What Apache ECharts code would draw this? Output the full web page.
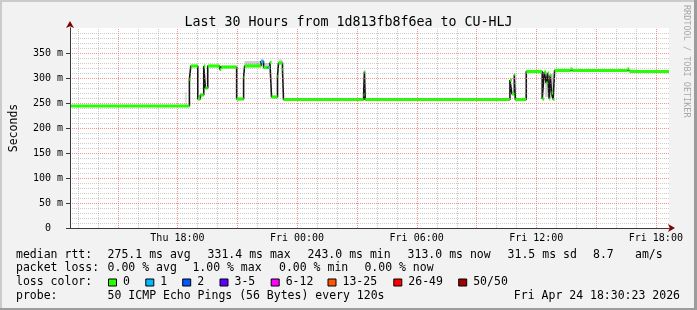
<!DOCTYPE html>
<html><head><meta charset="utf-8">
<script src="https://cdn.jsdelivr.net/npm/echarts@6/dist/echarts.min.js"></script>
<style>html,body{margin:0;padding:0;background:#f2f2f2}#c{width:697px;height:310px}</style>
</head><body><div id="c"></div>
<script>
// ---------------- data ----------------
const titleText = 'Last 30 Hours from 1d813fb8f6ea to CU-HLJ';
const xStart = 12.61, xEnd = 42.66;           // hours since Thu 00:00
const yMin = 0, yMax = 400, yStep = 50;       // ms
const tickHours  = [18, 24, 30, 36, 42];
const tickLabels = ['Thu 18:00', 'Fri 00:00', 'Fri 06:00', 'Fri 12:00', 'Fri 18:00'];

// median rtt (ms), each value holds from its time until the next one
const medianTimes  = [12.61, 18.60, 18.67, 19.02, 19.15, 19.32, 19.40, 19.52, 20.12, 20.20,
                      20.97, 21.32, 21.37, 22.19, 22.32, 22.52, 22.59, 22.64, 22.72, 23.02,
                      23.07, 23.27, 23.32, 27.34, 27.38, 27.42, 34.68, 34.78, 34.90, 34.95,
                      35.50, 36.30, 36.40, 36.50, 36.57, 36.65, 36.70, 36.77, 36.85, 36.92,
                      37.72, 37.82, 40.57, 40.67];
const medianValues = [244, 297, 324, 258, 266, 324, 280, 324, 317, 322,
                      258, 301, 324, 333, 321, 321, 321, 331, 262, 303,
                      330, 317, 257, 266, 313, 257, 296, 268, 307, 257,
                      313, 258, 312, 290, 310, 258, 305, 270, 257, 315,
                      318, 315, 318, 313];
const lossCounts   = [0, 0, 0, 0, 0, 0, 0, 0, 0, 0,
                      0, 0, 0, 1, 0, 1, 0, 0, 0, 0,
                      0, 0, 0, 0, 0, 0, 0, 0, 0, 0,
                      0, 0, 0, 0, 0, 0, 0, 0, 0, 0,
                      0, 0, 0, 0];

// smoke (spread of the pings)
const smokeStart = [18.40, 21.37, 22.19, 22.32, 23.07, 35.45, 36.45, 36.60];
const smokeEnd   = [18.45, 22.19, 22.32, 22.64, 23.27, 35.50, 36.60, 36.85];
const smokeLow   = [246, 324, 326, 318, 328, 258, 262, 260];
const smokeHigh  = [272, 334, 338, 330, 337, 268, 312, 308];

// legend
const legendRtt  = ['275.1 ms avg', '331.4 ms max', '243.0 ms min', '313.0 ms now', '31.5 ms sd', '8.7', 'am/s'];
const legendLoss = ['0.00 % avg', '1.00 % max', '0.00 % min', '0.00 % now'];
const lossLabels = ['0', '1', '2', '3-5', '6-12', '13-25', '26-49', '50/50'];
const probeText  = '50 ICMP Echo Pings (56 Bytes) every 120s';
const stampText  = 'Fri Apr 24 18:30:23 2026';

// ---------------- styles ----------------
const lossColors = ['#26ff00', '#00b8ff', '#0059ff', '#5e00ff', '#ff00ff', '#ff5500', '#ff0000', '#a10000'];
const MONO = 'DejaVu Sans Mono';
const gridGray = 'rgba(140,140,140,0.45)';
const gridRed  = 'rgba(240,110,110,0.75)';
const arrowRed = '#7f0000';
const axisCol  = '#3a3a3a';

const rttX   = [107.6, 207.6, 307.6, 407.6, 507.6, 593, 635];
const lossX  = [107.6, 192.4, 279, 364.4];
const boxX   = [108, 145.3, 182.2, 219.5, 270.7, 327.5, 393.3, 458.2];
const rowY   = [255, 268.5, 282.5, 296];

// ---------------- build ----------------
const segs = medianTimes.map((t, i) => [t, i + 1 < medianTimes.length ? medianTimes[i + 1] : xEnd, medianValues[i], lossCounts[i]]);
const lineData = medianTimes.map((t, i) => [t, medianValues[i]]).concat([[xEnd, medianValues[medianValues.length - 1]]]);
const smokeData = smokeStart.map((t, i) => [t, smokeEnd[i], smokeLow[i], smokeHigh[i]]);
const gridHours = [];
for (let h = Math.ceil(xStart); h <= Math.floor(xEnd); h++) gridHours.push([h, 0]);

const txt = (x, y, s, extra) => Object.assign({type: 'text', x: x, y: y, silent: true,
  style: {text: s, font: '11.5px "' + MONO + '"', fill: '#000', verticalAlign: 'middle', align: 'left'}}, extra || {});

const graphics = [
  // frame shades
  {type: 'rect', shape: {x: 0, y: 0, width: 697, height: 2}, style: {fill: '#cbcbcb'}, silent: true},
  {type: 'rect', shape: {x: 0, y: 0, width: 2, height: 310}, style: {fill: '#cbcbcb'}, silent: true},
  {type: 'rect', shape: {x: 0, y: 308, width: 697, height: 2}, style: {fill: '#9c9c9c'}, silent: true},
  {type: 'rect', shape: {x: 694, y: 0, width: 3, height: 310}, style: {fill: '#9c9c9c'}, silent: true},
  // watermark
  {type: 'text', x: 686, y: 5, rotation: -Math.PI / 2, silent: true,
   style: {text: 'RRDTOOL / TOBI OETIKER', font: '8.5px "' + MONO + '"', fill: '#a8a8a8', align: 'left', verticalAlign: 'middle'}},
  txt(16, rowY[0], 'median rtt:'),
  txt(16, rowY[1], 'packet loss:'),
  txt(16, rowY[2], 'loss color:'),
  txt(16, rowY[3], 'probe:'),
  txt(107.6, rowY[3], probeText),
  {type: 'text', x: 680, y: rowY[3], silent: true,
   style: {text: stampText, font: '11.5px "' + MONO + '"', fill: '#000', verticalAlign: 'middle', align: 'right'}}
];
legendRtt.forEach((s, i) => graphics.push(txt(rttX[i], rowY[0], s)));
legendLoss.forEach((s, i) => graphics.push(txt(lossX[i], rowY[1], s)));
lossLabels.forEach((s, i) => {
  graphics.push({type: 'rect', silent: true, shape: {x: boxX[i] + 0.5, y: rowY[2] - 3.5, width: 8, height: 7},
    style: {fill: lossColors[i], stroke: '#000', lineWidth: 1}});
  graphics.push(txt(boxX[i] + 15, rowY[2], s));
});

const chart = echarts.init(document.getElementById('c'), null, {renderer: 'canvas'});
chart.setOption({
  backgroundColor: '#f2f2f2',
  animation: false,
  title: {text: titleText, left: 'center', top: 11,
    textStyle: {fontFamily: MONO, fontSize: 13.3, fontWeight: 'normal', color: '#000'}},
  grid: {left: 67, right: 28, top: 28, bottom: 82, show: true, backgroundColor: '#fff', borderWidth: 0},
  xAxis: [{
    type: 'value', min: xStart, max: xEnd, z: 5,
    axisLine: {show: true, onZero: false, lineStyle: {color: axisCol, width: 1}},
    axisTick: {show: false, customValues: tickHours},
    axisLabel: {customValues: tickHours, margin: 5, color: '#000', fontFamily: MONO, fontSize: 10,
      formatter: v => { const i = tickHours.indexOf(Math.round(v)); return i >= 0 ? tickLabels[i] : ''; }},
    splitLine: {show: false}
  }, {
    type: 'value', min: xStart, max: xEnd, position: 'bottom', offset: 0, z: 4,
    axisLine: {show: true, onZero: false, symbol: ['none', 'arrow'], symbolSize: [6, 7], symbolOffset: [0, 6],
      lineStyle: {color: arrowRed, width: 1}},
    axisTick: {show: false}, axisLabel: {show: false}, splitLine: {show: false}
  }],
  yAxis: [{
    type: 'value', min: yMin, max: yMax, interval: yStep, z: 5,
    name: 'Seconds', nameLocation: 'middle', nameGap: 50,
    nameTextStyle: {fontFamily: MONO, fontSize: 11.5, color: '#000'},
    axisLine: {show: true, onZero: false, lineStyle: {color: axisCol, width: 1}},
    axisTick: {show: true, length: 4, lineStyle: {color: axisCol}},
    axisLabel: {margin: 7, color: '#000', fontFamily: MONO, fontSize: 10, showMaxLabel: false,
      formatter: v => v === 0 ? '0  ' : v + ' m'},
    splitLine: {show: true, showMaxLine: false, lineStyle: {color: gridRed, type: [1, 1], width: 1}},
    minorTick: {show: false, splitNumber: 5},
    minorSplitLine: {show: true, lineStyle: {color: gridGray, type: [1, 1], width: 1}}
  }, {
    type: 'value', min: yMin, max: yMax, position: 'left', offset: 0, z: 4,
    axisLine: {show: true, onZero: false, symbol: ['none', 'arrow'], symbolSize: [6, 7], symbolOffset: [0, 7],
      lineStyle: {color: arrowRed, width: 1}},
    axisTick: {show: false}, axisLabel: {show: false}, splitLine: {show: false}
  }],
  graphic: graphics,
  series: [
    { // vertical grid lines
      type: 'custom', silent: true, z: 1, clip: true, data: gridHours, encode: {x: 0, y: 1},
      renderItem: (p, api) => {
        const h = api.value(0);
        const a = api.coord([h, yMin]), b = api.coord([h, yMax]);
        const x = Math.round(a[0]) + 0.5;
        return {type: 'line', shape: {x1: x, y1: a[1], x2: x, y2: b[1]},
          style: {stroke: h % 3 === 0 ? gridRed : gridGray, lineWidth: 1, lineDash: [1, 1]}};
      }
    },
    { // smoke
      type: 'custom', silent: true, z: 2, clip: true, data: smokeData, encode: {x: [0, 1], y: [2, 3]},
      renderItem: (p, api) => {
        const a = api.coord([api.value(0), api.value(3)]), b = api.coord([api.value(1), api.value(2)]);
        return {type: 'rect', shape: {x: a[0], y: a[1], width: Math.max(1, b[0] - a[0]), height: b[1] - a[1]},
          style: {fill: 'rgba(150,150,150,0.45)'}};
      }
    },
    { // median line
      type: 'line', step: 'end', z: 3, silent: true, symbol: 'none', data: lineData,
      lineStyle: {color: '#151515', width: 1.6}
    },
    { // loss-coloured median band
      type: 'custom', silent: true, z: 4, clip: true, data: segs, encode: {x: [0, 1], y: 2},
      renderItem: (p, api) => {
        const a = api.coord([api.value(0), api.value(2)]), b = api.coord([api.value(1), api.value(2)]);
        return {type: 'rect', shape: {x: a[0], y: a[1] - 1.6, width: b[0] - a[0], height: 3.2},
          style: {fill: lossColors[api.value(3)]}};
      }
    }
  ]
});
</script></body></html>
